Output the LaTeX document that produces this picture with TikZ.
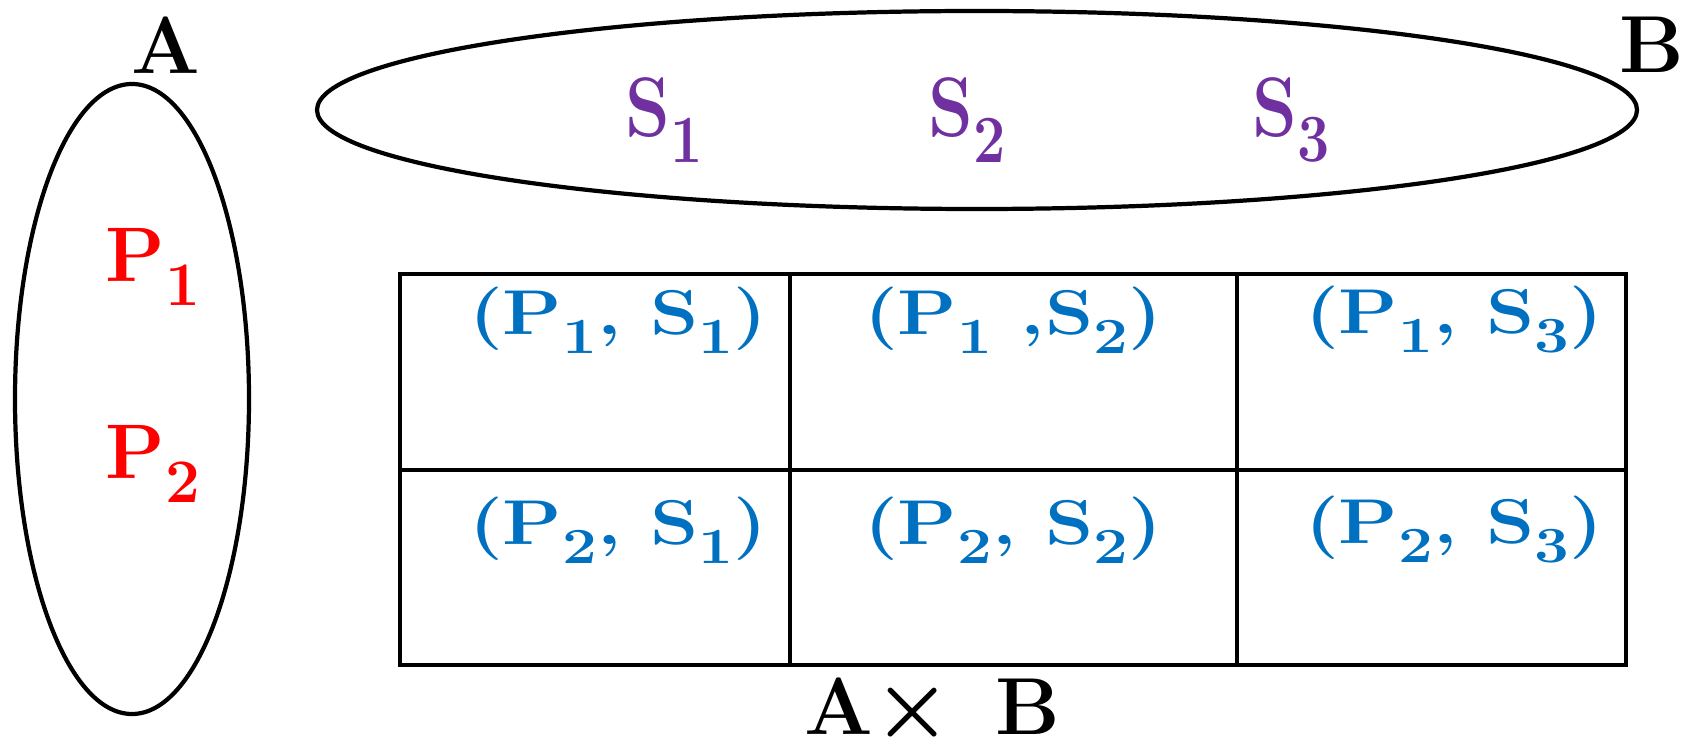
\documentclass[tikz,border=0pt]{standalone}
\usepackage{amsmath}
\usepackage{graphicx}
\usepackage{tikz}
\usetikzlibrary{shapes.geometric}
\usepackage{xcolor}
\definecolor{elemred}{RGB}{255,0,0}
\definecolor{elempurple}{RGB}{112,48,160}
\definecolor{pairblue}{RGB}{0,112,192}
\newcommand{\ix}[1]{\raisebox{-0.3em}{\scalebox{0.8}{#1}}}
\newcommand{\wide}[1]{\scalebox{1.22}[1]{#1}}
\newcommand{\narrow}[1]{\scalebox{0.85}[1]{#1}}
\tikzset{
    setline/.style={draw=black, line width=1.2pt},
    gridline/.style={draw=black, line width=0.9pt},
    setname/.style={font=\fontsize{23}{27}\selectfont\bfseries},
    elemA/.style={text=elemred, font=\fontsize{22}{26}\selectfont\bfseries},
    elemB/.style={text=elempurple, font=\fontsize{24}{28}\selectfont\bfseries},
    pair/.style={text=pairblue, font=\fontsize{18}{22}\selectfont\bfseries}
}

\begin{document}
\begin{tikzpicture}[x=0.01cm, y=-0.01cm]
    \useasboundingbox (0,0) rectangle (1683,749);
    % Menge A
    \draw[setline] (132,399) ellipse (117 and 315);
    \node[setname] (nameA) at (166,45) {A};
    \node[elemA] (p1) at (153,267) {P\ix{1}};
    \node[elemA] (p2) at (153,464) {P\ix{2}};
    % Menge B
    \draw[setline] (977,110) ellipse (660 and 99);
    \node[setname] (nameB) at (1652,45) {B};
    \node[elemB] (s1) at (664,120) {\narrow{S\ix{1}}};
    \node[elemB] (s2) at (967,120) {\narrow{S\ix{2}}};
    \node[elemB] (s3) at (1291,120) {\narrow{S\ix{3}}};
    % Tabelle A x B
    \draw[gridline] (400,274) rectangle (1626,665);
    \draw[gridline] (400,470) -- (1626,470);
    \draw[gridline] (790,274) -- (790,665);
    \draw[gridline] (1237,274) -- (1237,665);
    \node[pair] (p1s1) at (618,320) {\wide{(P\ix{1}, S\ix{1})}};
    \node[pair] (p1s2) at (1013,320) {\wide{(P\ix{1} ,S\ix{2})}};
    \node[pair] (p1s3) at (1454,320) {\wide{(P\ix{1}, S\ix{3})}};
    \node[pair] (p2s1) at (618,530) {\wide{(P\ix{2}, S\ix{1})}};
    \node[pair] (p2s2) at (1013,530) {\wide{(P\ix{2}, S\ix{2})}};
    \node[pair] (p2s3) at (1454,530) {\wide{(P\ix{2}, S\ix{3})}};
    \node[setname] (prod) at (932,712) {A$\boldsymbol{\times}$\ \,B};
\end{tikzpicture}
\end{document}
